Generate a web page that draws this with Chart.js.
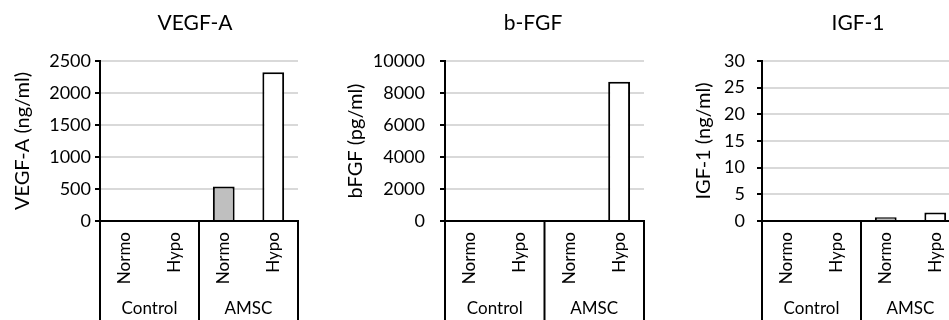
<!DOCTYPE html>
<html>
<head>
<meta charset="utf-8">
<script src="https://cdn.jsdelivr.net/npm/chart.js@4"></script>
<style>
    html, body { margin: 0; padding: 0; background: #fff; }
    body { width: 949px; height: 320px; overflow: hidden; position: relative; }
    .panel { position: absolute; top: 0; height: 320px; }
</style>
</head>
<body>
<div class="panel" style="left:0px;width:310px"><canvas id="vegf"></canvas></div>
<div class="panel" style="left:310px;width:346px"><canvas id="bfgf"></canvas></div>
<div class="panel" style="left:656px;width:316px"><canvas id="igf"></canvas></div>
<script>
const conditions = ["Normo", "Hypo", "Normo", "Hypo"];
const groups = ["Control", "AMSC"];

const vegfValues = [0, 0, 540, 2325];
const bfgfValues = [0, 0, 0, 8710];
const igfValues = [0, 0, 0.7, 1.6];

const barColors = ["#bfbfbf", "#ffffff", "#bfbfbf", "#ffffff"];

const FONT = "Lato, 'Open Sans', sans-serif";

// draws the chart title, the group labels and the box lines under the axis
const groupAxisPlugin = {
    id: "groupAxis",
    afterDraw(chart, args, opts) {
        const { ctx, chartArea, scales } = chart;
        const x = scales.x;
        const bottom = chart.height;
        const mid = (x.getPixelForValue(1) + x.getPixelForValue(2)) / 2;
        const edges = [chartArea.left, mid, chartArea.right];

        ctx.save();
        ctx.strokeStyle = "#000";
        ctx.lineWidth = 2;
        edges.forEach(px => {
            ctx.beginPath();
            ctx.moveTo(px, chartArea.bottom);
            ctx.lineTo(px, bottom);
            ctx.stroke();
        });

        ctx.fillStyle = "#000";
        ctx.font = "17px " + FONT;
        ctx.textAlign = "center";
        ctx.textBaseline = "middle";
        groups.forEach((g, i) => {
            ctx.fillText(g, (edges[i] + edges[i + 1]) / 2, chartArea.bottom + 88);
        });

        ctx.font = "21px " + FONT;
        ctx.fillText(opts.text, opts.x, 23);
        ctx.restore();
    }
};

function renderPanel(elementId, values, cfg) {
    const ctx = document.getElementById(elementId).getContext("2d");

    new Chart(ctx, {
        type: "bar",
        data: {
            labels: conditions,
            datasets: [{
                data: values,
                backgroundColor: barColors,
                borderColor: "#000",
                borderWidth: 2,
                barPercentage: 0.44,
                categoryPercentage: 1
            }]
        },
        options: {
            responsive: true,
            maintainAspectRatio: false,
            animation: false,
            layout: {
                padding: { top: 61, right: cfg.right, bottom: 0, left: 0 }
            },
            plugins: {
                legend: { display: false },
                tooltip: { enabled: false },
                groupAxis: { text: cfg.title, x: cfg.titleX }
            },
            scales: {
                x: {
                    grid: { display: false, drawTicks: false },
                    border: { display: true, color: "#000", width: 2 },
                    ticks: {
                        color: "#000",
                        font: { family: FONT, size: 17 },
                        minRotation: 90,
                        maxRotation: 90,
                        autoSkip: false,
                        padding: 11
                    },
                    afterFit: scale => { scale.height = 99; }
                },
                y: {
                    min: 0,
                    max: cfg.max,
                    ticks: {
                        stepSize: cfg.step,
                        color: "#000",
                        font: { family: FONT, size: 18 },
                        padding: cfg.tickPad,
                        callback: v => String(v)
                    },
                    grid: {
                        color: c => c.tick && c.tick.value === 0 ? "#000" : "#d9d9d9",
                        lineWidth: 2,
                        tickColor: "#000",
                        tickLength: 5,
                        tickWidth: 2
                    },
                    border: { display: true, color: "#000", width: 2 },
                    title: {
                        display: true,
                        text: cfg.yTitle,
                        color: "#000",
                        font: { family: FONT, size: 20 },
                        padding: { top: cfg.titlePad, bottom: 0 }
                    },
                    afterFit: scale => { scale.width = cfg.axisWidth; }
                }
            }
        },
        plugins: [groupAxisPlugin]
    });
}

renderPanel("vegf", vegfValues, {
    title: "VEGF-A", titleX: 195, yTitle: "VEGF-A (ng/ml)",
    max: 2500, step: 500, axisWidth: 100, right: 12, tickPad: 4, titlePad: 11
});
renderPanel("bfgf", bfgfValues, {
    title: "b-FGF", titleX: 223, yTitle: "bFGF (pg/ml)",
    max: 10000, step: 2000, axisWidth: 135, right: 12, tickPad: 15, titlePad: 34
});
renderPanel("igf", igfValues, {
    title: "IGF-1", titleX: 202, yTitle: "IGF-1 (ng/ml)",
    max: 30, step: 5, axisWidth: 106, right: 12, tickPad: 12, titlePad: 36
});
</script>
</body>
</html>
